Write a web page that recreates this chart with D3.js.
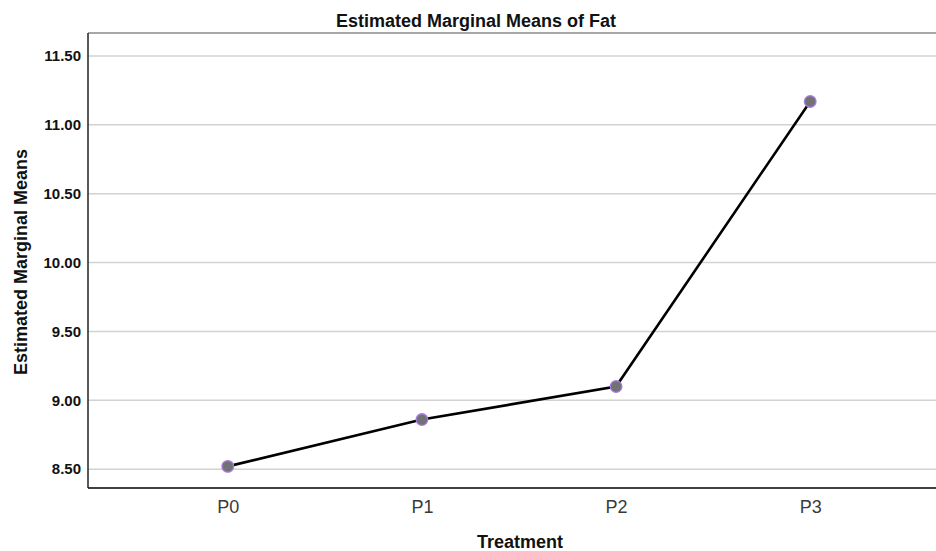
<!DOCTYPE html>
<html>
<head>
<meta charset="utf-8">
<script src="https://cdn.jsdelivr.net/npm/d3@7"></script>
<style>
  body { margin: 0; background: #fff; }
  text { font-family: "Liberation Sans", Arial, sans-serif; }
</style>
</head>
<body>
<div id="chart"></div>
<script>
const width = 936;
const height = 551;

// data
const treatments = ["P0", "P1", "P2", "P3"];
const means = [8.52, 8.86, 9.10, 11.17];
const yTicks = [8.5, 9.0, 9.5, 10.0, 10.5, 11.0, 11.5];

const data = treatments.map((t, i) => ({ treatment: t, value: means[i] }));

const plot = { left: 88, top: 33, bottom: 488, right: 950 };

const svg = d3.select("#chart").append("svg")
    .attr("width", width)
    .attr("height", height);

const x = d3.scalePoint()
    .domain(treatments)
    .range([plot.left, plot.right])
    .padding(0.72);

const y = d3.scaleLinear()
    .domain([8.363, 11.667])
    .range([plot.bottom, plot.top]);

// grid lines
svg.append("g")
    .selectAll("line")
    .data(yTicks)
    .join("line")
    .attr("x1", plot.left)
    .attr("x2", plot.right)
    .attr("y1", d => y(d))
    .attr("y2", d => y(d))
    .attr("stroke", "#d2d2d2")
    .attr("stroke-width", 1.5);

// frame
svg.append("line")
    .attr("x1", plot.left).attr("x2", plot.right)
    .attr("y1", plot.top).attr("y2", plot.top)
    .attr("stroke", "#8a8a8a").attr("stroke-width", 1.5);

svg.append("line")
    .attr("x1", plot.left).attr("x2", plot.right)
    .attr("y1", plot.bottom).attr("y2", plot.bottom)
    .attr("stroke", "#000").attr("stroke-width", 1.5);

// y axis
const yAxis = d3.axisLeft(y)
    .tickValues(yTicks)
    .tickFormat(d3.format(".2f"))
    .tickSize(0)
    .tickPadding(7);

const gy = svg.append("g")
    .attr("transform", `translate(${plot.left},0)`)
    .call(yAxis);
gy.select(".domain")
    .attr("stroke", "#222")
    .attr("stroke-width", 1.5)
    .attr("d", `M0,${plot.top}V${plot.bottom}`);
gy.selectAll("text")
    .attr("font-size", 15)
    .attr("font-weight", "bold")
    .attr("fill", "#111");

// x axis
const xAxis = d3.axisBottom(x).tickSize(0).tickPadding(12);
const gx = svg.append("g")
    .attr("transform", `translate(0,${plot.bottom})`)
    .call(xAxis);
gx.select(".domain").remove();
gx.selectAll("text")
    .attr("font-size", 18)
    .attr("fill", "#3a3a3a");

// line
const line = d3.line()
    .x(d => x(d.treatment))
    .y(d => y(d.value));

svg.append("path")
    .datum(data)
    .attr("d", line)
    .attr("fill", "none")
    .attr("stroke", "#000")
    .attr("stroke-width", 2.6);

svg.append("g")
    .selectAll("circle")
    .data(data)
    .join("circle")
    .attr("cx", d => x(d.treatment))
    .attr("cy", d => y(d.value))
    .attr("r", 5.8)
    .attr("fill", "#727272")
    .attr("stroke", "#a77ae6")
    .attr("stroke-width", 1.3);

// titles
svg.append("text")
    .attr("x", 476)
    .attr("y", 27)
    .attr("text-anchor", "middle")
    .attr("font-size", 18)
    .attr("font-weight", "bold")
    .attr("fill", "#111")
    .text("Estimated Marginal Means of Fat");

svg.append("text")
    .attr("x", 520)
    .attr("y", 548)
    .attr("text-anchor", "middle")
    .attr("font-size", 18)
    .attr("font-weight", "bold")
    .attr("fill", "#111")
    .text("Treatment");

svg.append("text")
    .attr("transform", `translate(27,262) rotate(-90)`)
    .attr("text-anchor", "middle")
    .attr("font-size", 18)
    .attr("font-weight", "bold")
    .attr("fill", "#111")
    .text("Estimated Marginal Means");
</script>
</body>
</html>
